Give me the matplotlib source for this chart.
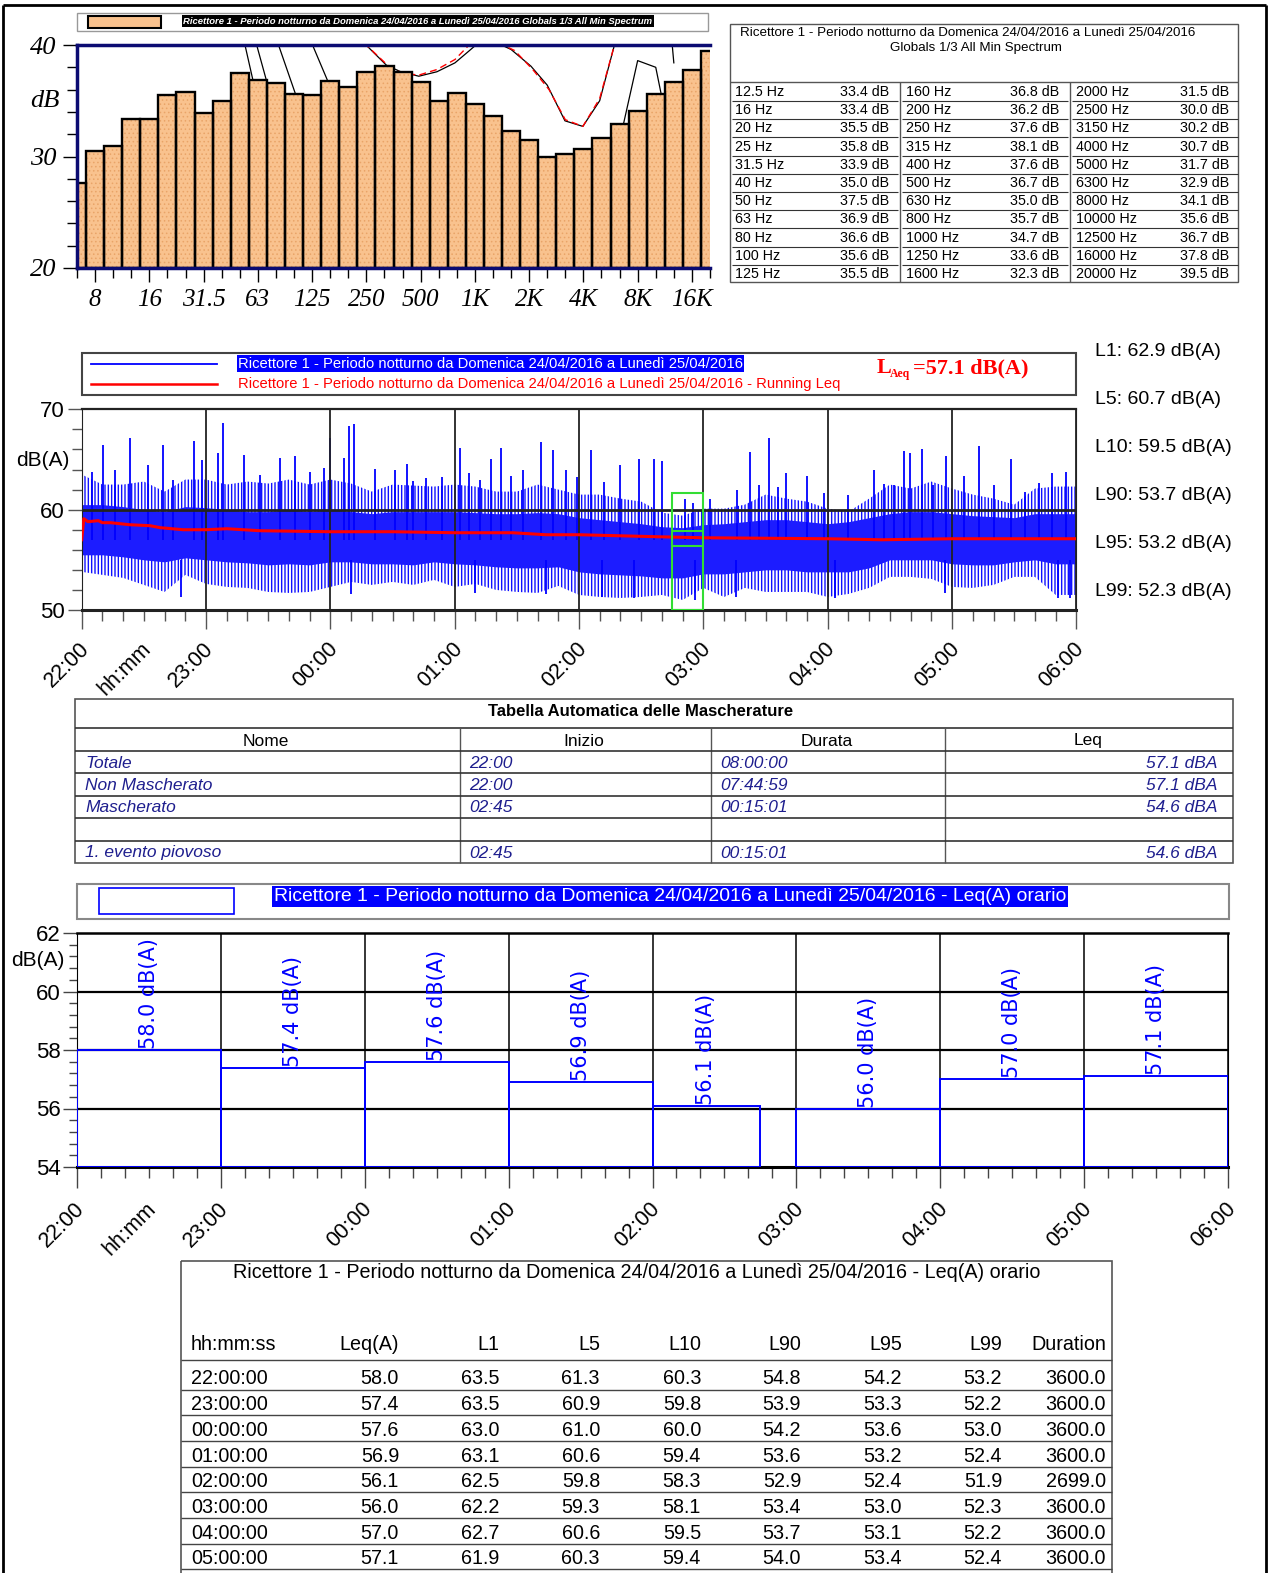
import matplotlib
matplotlib.use('Agg')
import matplotlib.pyplot as plt
import matplotlib.transforms as mtransforms
from matplotlib.patches import Rectangle
from matplotlib import font_manager
import numpy as np

W, H = 1269, 1573

font_names = {f.name for f in font_manager.fontManager.ttflist}
SANS = 'Liberation Sans'
SERIF = 'Liberation Serif'
# a narrow face is used when one is installed, otherwise the plain face a bit smaller
NARROW, NSCALE = SANS, 0.86
for cand, sc in [('Liberation Sans Narrow', 1.0), ('Arial Narrow', 1.0)]:
    if cand in font_names:
        NARROW, NSCALE = cand, sc
        break

TITLE = 'Ricettore 1 - Periodo notturno da Domenica 24/04/2016 a Lunedì 25/04/2016'

# ---- 1/3 octave spectrum (Globals 1/3 All Min Spectrum) ----
band_labels = ['6.3', '8', '10', '12.5', '16', '20', '25', '31.5', '40', '50', '63', '80',
               '100', '125', '160', '200', '250', '315', '400', '500', '630', '800', '1000',
               '1250', '1600', '2000', '2500', '3150', '4000', '5000', '6300', '8000',
               '10000', '12500', '16000', '20000']
band_db = [27.6, 30.5, 30.9, 33.4, 33.4, 35.5, 35.8, 33.9, 35.0, 37.5, 36.9, 36.6,
           35.6, 35.5, 36.8, 36.2, 37.6, 38.1, 37.6, 36.7, 35.0, 35.7, 34.7,
           33.6, 32.3, 31.5, 30.0, 30.2, 30.7, 31.7, 32.9, 34.1,
           35.6, 36.7, 37.8, 39.5]
octave_bands = ['8', '16', '31.5', '63', '125', '250', '500', '1000', '2000', '4000', '8000', '16000']
octave_names = ['8', '16', '31.5', '63', '125', '250', '500', '1K', '2K', '4K', '8K', '16K']

# off-scale reference curves seen behind the bars (band position, dB)
nan = float('nan')
curve_pos = [9.26, 9.72, nan, 9.9, 10.46, nan, 11.1, 12.06, nan, 12.97, 13.83, nan,
             15.86, 17.1, 17.9, 18.9, 19.9, 20.9, 21.7, 22.2, nan,
             23.2, 24.0, 25.1, 26.0, 26.98, 27.97, 28.9, 29.75, nan,
             30.2, 31.0, 32.0, 32.3, nan, 32.9, 33.0]
curve_db = [40.2, 36.9, nan, 40.2, 36.9, nan, 40.2, 35.7, nan, 40.2, 36.9, nan,
            40.2, 38.2, 37.6, 37.2, 37.6, 38.4, 39.5, 40.2, nan,
            40.2, 39.6, 38.1, 36.4, 33.2, 32.7, 35.0, 40.2, nan,
            32.8, 38.6, 38.0, 35.6, nan, 40.2, 38.4]
red_pos = [15.86, 17.1, 17.9, 18.9, 19.9, 20.9, 21.8, nan,
           23.3, 24.2, 25.2, 26.1, 27.0, 27.97, 28.9, 29.75]
red_db = [40.2, 38.3, 37.5, 37.3, 37.8, 38.7, 40.2, nan,
          40.2, 39.5, 37.8, 36.0, 33.3, 32.7, 35.2, 40.2]

# ---- time history 22:00 -> 06:00 (minutes from 22:00), envelope read every 10 min ----
th_min = list(range(0, 481, 10))
th_upper = [63.5, 62.5, 62.5, 62.8, 61.8, 63.0, 63.0, 62.5, 62.8, 62.6,
            63.0, 62.5, 63.0, 62.6, 61.8, 62.5, 62.4, 62.3, 62.5, 62.3,
            61.8, 61.8, 62.5, 62.0, 61.5, 61.5, 61.1, 60.8, 59.7, 59.4,
            60.1, 60.1, 60.5, 61.5, 61.1, 60.8, 60.1, 59.8, 61.1, 62.5,
            62.1, 62.8, 62.1, 61.5, 61.1, 60.5, 62.1, 62.3, 62.3]
th_core_hi = [60.5, 60.5, 60.3, 60.0, 59.8, 60.3, 60.2, 60.0, 59.8, 59.8,
              60.0, 59.8, 60.0, 59.8, 59.6, 59.8, 59.8, 59.8, 59.8, 59.7,
              59.6, 59.6, 59.7, 59.6, 59.2, 59.0, 58.8, 58.6, 58.3, 58.2,
              58.5, 58.6, 58.8, 59.0, 59.0, 58.8, 58.6, 58.8, 59.2, 59.6,
              59.8, 59.8, 59.6, 59.4, 59.3, 59.2, 59.6, 59.6, 59.6]
th_core_lo = [55.5, 55.5, 55.3, 55.0, 54.8, 55.2, 55.0, 54.8, 54.7, 54.5,
              54.6, 54.5, 54.8, 54.8, 54.6, 54.6, 54.5, 54.8, 54.6, 54.5,
              54.3, 54.2, 54.2, 54.3, 53.8, 53.6, 53.5, 53.4, 53.2, 53.2,
              53.6, 53.6, 53.8, 54.0, 54.0, 53.8, 53.8, 53.8, 54.2, 55.0,
              55.0, 55.0, 54.6, 54.5, 54.5, 54.8, 55.0, 54.6, 54.6]
th_lower = [53.8, 53.5, 53.2, 52.5, 51.8, 53.5, 52.6, 52.3, 52.2, 51.8,
            51.7, 51.8, 52.3, 52.8, 52.5, 52.8, 52.5, 53.0, 52.3, 52.6,
            52.0, 51.8, 51.7, 52.4, 51.5, 51.3, 51.2, 51.3, 51.5, 51.0,
            52.2, 51.3, 52.2, 51.8, 51.8, 51.8, 51.3, 51.6, 52.2, 53.3,
            53.3, 53.1, 52.3, 52.2, 52.5, 53.3, 53.3, 51.5, 51.5]
peak_min = [5, 10.1, 16, 23.5, 32.2, 39.0, 44, 54.4, 58.0, 66.0, 68.3, 78.1, 86, 95.8,
            103.1, 110, 116.8, 119.7, 126.4, 128.9, 131.3, 141.7, 151.4, 157.0, 159.7,
            166, 173.9, 182.7, 186.8, 192, 197.7, 202.3, 207, 212.8, 221.8, 227.3,
            233.9, 239, 245.9, 252, 259.6, 268.7, 276.4, 280.0, 290.9, 294.8, 303.4,
            316.3, 322.4, 327, 331.5, 336, 340.1, 350.0, 358.1, 370, 382.5, 387, 392,
            397.0, 399.9, 405.5, 411, 417.2, 425.9, 433.0, 440, 448.6, 455, 462,
            468.2, 475.2]
peak_db = [63.8, 66.4, 64.0, 67.1, 64.4, 66.4, 63.0, 66.8, 64.9, 65.6, 68.6, 65.4, 63.5, 65.1,
           65.3, 63.8, 64.2, 67.1, 65.1, 68.3, 68.5, 64.1, 64.0, 64.5, 62.9,
           63.2, 63.3, 66.1, 63.7, 63.0, 65.0, 66.1, 63.4, 64.0, 66.7, 65.9,
           64.0, 63.3, 65.9, 62.8, 64.4, 65.0, 65.0, 64.8, 61.1, 60.7, 61.1,
           62.0, 65.7, 62.5, 67.1, 62.3, 63.7, 63.4, 61.7, 61.5, 64.0, 62.6, 62.5,
           65.8, 65.6, 66.0, 62.5, 65.3, 63.4, 66.3, 62.5, 65.0, 61.8, 62.7,
           63.7, 63.8]
dip_min = [47.8, 130, 190, 224, 251, 266.3, 296.1, 315.5, 363.7, 416.8, 470.9, 477.0]
dip_db = [51.3, 51.6, 51.7, 51.6, 51.3, 51.2, 51.0, 51.3, 51.2, 51.7, 51.2, 51.2]
leq_min = [0, 1, 3, 8, 10, 14, 23, 33, 38, 49, 60, 70, 86, 120, 150, 180, 208, 224,
           240, 278, 300, 360, 386, 420, 480]
leq_db = [57.0, 59.1, 58.8, 58.9, 58.7, 58.7, 58.5, 58.4, 58.2, 58.0, 58.0, 58.1, 57.9,
          57.8, 57.8, 57.7, 57.7, 57.5, 57.5, 57.3, 57.2, 57.1, 57.0, 57.1, 57.1]
mask_from, mask_to, mask_top = 285, 300, 61.7      # 02:45 -> 03:00
mask_leq_lines = [57.9, 56.4]
laeq_total = 57.1
stat_names = ['L1', 'L5', 'L10', 'L90', 'L95', 'L99']
stat_values = [62.9, 60.7, 59.5, 53.7, 53.2, 52.3]
hour_labels = ['22:00', '23:00', '00:00', '01:00', '02:00', '03:00', '04:00', '05:00', '06:00']

# ---- masking table ----
mask_names = ['Totale', 'Non Mascherato', 'Mascherato', '', '1. evento piovoso']
mask_start = ['22:00', '22:00', '02:45', '', '02:45']
mask_dur = ['08:00:00', '07:44:59', '00:15:01', '', '00:15:01']
mask_leq = [57.1, 57.1, 54.6, None, 54.6]

# ---- hourly Leq table ----
ht_hours = ['22:00:00', '23:00:00', '00:00:00', '01:00:00', '02:00:00', '03:00:00', '04:00:00', '05:00:00']
ht_leq = [58.0, 57.4, 57.6, 56.9, 56.1, 56.0, 57.0, 57.1]
ht_l1 = [63.5, 63.5, 63.0, 63.1, 62.5, 62.2, 62.7, 61.9]
ht_l5 = [61.3, 60.9, 61.0, 60.6, 59.8, 59.3, 60.6, 60.3]
ht_l10 = [60.3, 59.8, 60.0, 59.4, 58.3, 58.1, 59.5, 59.4]
ht_l90 = [54.8, 53.9, 54.2, 53.6, 52.9, 53.4, 53.7, 54.0]
ht_l95 = [54.2, 53.3, 53.6, 53.2, 52.4, 53.0, 53.1, 53.4]
ht_l99 = [53.2, 52.2, 53.0, 52.4, 51.9, 52.3, 52.2, 52.4]
ht_dur = [3600.0, 3600.0, 3600.0, 3600.0, 2699.0, 3600.0, 3600.0, 3600.0]

fig = plt.figure(figsize=(W / 100, H / 100), dpi=100)


def px_axes(x0, y0, x1, y1):
    return fig.add_axes([x0 / W, 1 - y1 / H, (x1 - x0) / W, (y1 - y0) / H])


def nsize(s):
    return s * NSCALE


def hour_text(ax, xs, labels, dx=-3, dy=-28, size=15.5):
    trans = mtransforms.offset_copy(ax.get_xaxis_transform(), fig=fig, x=dx, y=dy, units='dots')
    for xv, lab in zip(xs, labels):
        ax.text(xv, 0, lab, transform=trans, rotation=45, ha='right', va='top',
                rotation_mode='anchor', fontsize=size, family=SANS, clip_on=False)


def set_hatch_lw(artist, lw):
    if hasattr(artist, 'set_hatch_linewidth'):
        artist.set_hatch_linewidth(lw)


# ================= spectrum =================
navy = '#0b0b72'
ax1 = px_axes(77, 45, 710, 268)
xb = np.arange(len(band_db))
heights = np.array(band_db) - 20
ax1.plot(curve_pos, curve_db, color='black', lw=0.9, zorder=1)
ax1.plot(red_pos, red_db, color='red', lw=1.0, ls=(0, (5, 3)), zorder=1)
plt.rcParams['hatch.linewidth'] = 0.6
bars = ax1.bar(xb, heights, bottom=20, width=1, color='#f9c28e', edgecolor='#e9a468',
               hatch='....', lw=0, zorder=2)
for b in bars:
    set_hatch_lw(b, 0.6)
ax1.bar(xb, heights, bottom=20, width=1, fill=False, edgecolor='black', lw=1.7, zorder=3)
ax1.set_xlim(0, len(band_db) - 1)
ax1.set_ylim(20, 40)
for s in ['left', 'top', 'bottom']:
    ax1.spines[s].set_color(navy)
    ax1.spines[s].set_linewidth(2.5)
    ax1.spines[s].set_zorder(4)
ax1.spines['right'].set_visible(False)
ax1.set_yticks([20, 30, 40])
ax1.set_yticks(np.arange(22, 40, 2), minor=True)
ax1.set_yticklabels(['20', '30', '40'], family=SERIF, style='italic', fontsize=19)
ax1.set_xticks([band_labels.index(b) for b in octave_bands])
ax1.set_xticks(xb, minor=True)
ax1.set_xticklabels(octave_names, family=SERIF, style='italic', fontsize=18)
ax1.tick_params(axis='both', which='major', length=10, width=1, color='black', pad=5)
ax1.tick_params(axis='both', which='minor', length=7, width=1, color='black')

# ================= time history =================
ax2 = px_axes(81.7, 409.3, 1076.4, 610)
plt.rcParams['hatch.linewidth'] = 1.0
outer = ax2.fill_between(th_min, th_lower, th_upper, facecolor='none', edgecolor='#1010ff',
                         hatch='|||||', lw=0, zorder=1)
set_hatch_lw(outer, 1.0)
ax2.fill_between(th_min, th_core_lo, th_core_hi, color='#1c1cff', lw=0, zorder=2)
ax2.vlines(peak_min, 57, peak_db, color='blue', lw=1.3, zorder=2)
ax2.vlines(dip_min, dip_db, 55, color='blue', lw=1.3, zorder=2)
ax2.vlines(range(0, 481, 60), 50, 70, color='#222222', lw=1.3, zorder=3)
ax2.axhline(60, color='#222222', lw=2, zorder=3)
ax2.plot(leq_min, leq_db, color='red', lw=2.2, zorder=5)
ax2.add_patch(Rectangle((mask_from, 50), mask_to - mask_from, mask_top - 50, fill=False,
                        ec='#33dd33', lw=1.5, zorder=6))
ax2.hlines(mask_leq_lines, mask_from, mask_to, color='#33dd33', lw=1.5, zorder=6)
ax2.set_xlim(0, 480)
ax2.set_ylim(50, 70)
for s in ax2.spines.values():
    s.set_color('#222222')
ax2.spines['bottom'].set_linewidth(2.2)
ax2.spines['top'].set_linewidth(1.6)
ax2.set_xticks(range(0, 481, 60))
ax2.set_xticks(range(0, 481, 10), minor=True)
ax2.set_xticklabels([])
ax2.set_yticks([50, 60, 70])
ax2.set_yticks(np.arange(52, 70, 2), minor=True)
ax2.set_yticklabels(['50', '60', '70'], family=SANS, fontsize=16)
ax2.tick_params(axis='x', which='major', length=14, width=1, color='#555555')
ax2.tick_params(axis='x', which='minor', length=8, width=1, color='#555555')
ax2.tick_params(axis='y', which='major', length=10, width=1, color='#555555', pad=2)
ax2.tick_params(axis='y', which='minor', length=7, width=1, color='#555555')
hour_text(ax2, list(range(0, 481, 60)) + [30], hour_labels + ['hh:mm'])

# ================= hourly Leq bars =================
ax3 = px_axes(77, 933, 1228, 1167)
starts = [60 * i for i in range(len(ht_leq))]
widths = [d / 60 for d in ht_dur]
ax3.vlines(range(0, 481, 60), 54, 62, color='black', lw=1.1, zorder=1)
ax3.hlines([56, 58, 60], 0, 480, color='black', lw=1.6, zorder=1)
ax3.bar(starts, np.array(ht_leq) - 54, width=widths, bottom=54, align='edge', fill=False,
        edgecolor='blue', lw=1.4, zorder=3)
for st, wd, v in zip(starts, widths, ht_leq):
    ax3.text(st + wd / 2, v + 0.03, f'{v:.1f} dB(A)', rotation=90, ha='center', va='bottom',
             color='blue', fontsize=15, family='DejaVu Sans', zorder=4)
ax3.set_xlim(0, 480)
ax3.set_ylim(54, 62)
for s in ax3.spines.values():
    s.set_color('black')
ax3.spines['bottom'].set_linewidth(2.2)
ax3.spines['top'].set_linewidth(1.8)
ax3.set_xticks(range(0, 481, 60))
ax3.set_xticks(range(0, 481, 10), minor=True)
ax3.set_xticklabels([])
ax3.set_yticks([54, 56, 58, 60, 62])
ax3.set_yticks(np.arange(54, 62.01, 0.4), minor=True)
ax3.set_yticklabels(['54', '56', '58', '60', '62'], family=SANS, fontsize=16)
ax3.tick_params(axis='x', which='major', length=15, width=1, color='#444444')
ax3.tick_params(axis='x', which='minor', length=8, width=1, color='#444444')
ax3.tick_params(axis='y', which='major', length=10, width=1, color='#444444', pad=2)
ax3.tick_params(axis='y', which='minor', length=6, width=1, color='#444444')
hour_text(ax3, list(range(0, 481, 60)) + [30], hour_labels + ['hh:mm'], dy=-31)

# ================= overlay: legends, tables, frame =================
ov = fig.add_axes([0, 0, 1, 1], zorder=10)
ov.set_xlim(0, W)
ov.set_ylim(H, 0)
ov.axis('off')


def box(x0, y0, x1, y1, **kw):
    ov.add_patch(Rectangle((x0, y0), x1 - x0, y1 - y0, fill=kw.pop('fill', False), **kw))


def hline(y, x0, x1, c='#555555', lw=1.0):
    ov.plot([x0, x1], [y, y], color=c, lw=lw, solid_capstyle='butt')


def vline(x, y0, y1, c='#555555', lw=1.0):
    ov.plot([x, x], [y0, y1], color=c, lw=lw, solid_capstyle='butt')


# page frame
vline(3, 5, H, c='black', lw=2)
vline(1266, 5, H, c='black', lw=2)
hline(5, 3, 1266, c='black', lw=2)

# spectrum legend
box(77, 13, 708, 31, ec='#999999', lw=1)
box(88, 16, 161, 28, ec='black', lw=1.5, fill=True, fc='#f9c28e')
ov.text(183, 21, TITLE + ' Globals 1/3 All Min Spectrum', fontsize=6.8, color='white',
        family=SANS, style='italic', weight='bold', va='center', ha='left',
        bbox=dict(boxstyle='square,pad=0.15', fc='black', ec='none'))
ov.text(45, 101, 'dB', family=SERIF, style='italic', fontsize=19, ha='center', va='center')

# spectrum table
box(730, 24, 1238, 282, ec='#555555', lw=1)
ov.text(968, 32.5, TITLE, fontsize=9.6, family=SANS, ha='center', va='center')
ov.text(976, 48, 'Globals 1/3 All Min Spectrum', fontsize=9.6, family=SANS, ha='center', va='center')
hline(82, 730, 1238)
col_left = [735, 906, 1076]
col_right = [889, 1059, 1229]
for sep in [900, 1070]:
    vline(sep, 82, 282)
for k in range(3, len(band_db)):
    j = k - 3
    col, row = j // 11, j % 11
    yc = 92 + row * 18.2
    ov.text(col_left[col], yc, f'{band_labels[k]} Hz', fontsize=10.3, family=SANS, va='center')
    ov.text(col_right[col], yc, f'{band_db[k]:.1f} dB', fontsize=10.3, family=SANS,
            va='center', ha='right')
    if row < 10:
        hline(yc + 9, 732 + col * 170, 898 + col * 170, c='#333333', lw=0.8)

# time history legend
box(81.7, 353, 1076.4, 395, ec='#444444', lw=1.5)
ov.plot([91, 217], [363.5, 363.5], color='blue', lw=1.3)
ov.plot([91, 217], [384, 384], color='red', lw=1.8)
ov.text(238, 363.5, TITLE, fontsize=10.6, family=SANS, color='white', va='center',
        bbox=dict(boxstyle='square,pad=0.08', fc='blue', ec='none'))
ov.text(238, 384, TITLE + ' - Running Leq', fontsize=10.6, family=SANS, color='red', va='center')
ov.text(877, 368, 'L', fontsize=16, family=SERIF, weight='bold', color='red', va='center')
ov.text(890, 374, 'Aeq', fontsize=8.5, family=SERIF, weight='bold', color='red', va='center')
ov.text(913, 368, f'={laeq_total:.1f} dB(A)', fontsize=16, family=SERIF, weight='bold',
        color='red', va='center')
for i, (nm, v) in enumerate(zip(stat_names, stat_values)):
    ov.text(1095, 352 + 47.8 * i, f'{nm}: {v:.1f} dB(A)', fontsize=nsize(16.3), family=NARROW,
            va='center')
ov.text(43, 460, 'dB(A)', fontsize=15, family=SANS, ha='center', va='center')

# masking table
mx = [75, 459.5, 710.5, 944.5, 1232.5]
box(75, 699, 1232.5, 862.5, ec='#555555', lw=1.2)
ov.text(641, 712, 'Tabella Automatica delle Mascherature', fontsize=12, family=SANS,
        weight='bold', ha='center', va='center')
hline(727.5, 75, 1232.5, c='#333333', lw=1.2)
for xv in mx[1:4]:
    vline(xv, 727.5, 862.5)
for lab, xc in zip(['Nome', 'Inizio', 'Durata', 'Leq'], [265.5, 584, 827, 1088]):
    ov.text(xc, 741, lab, fontsize=12.5, family=SANS, ha='center', va='center')
row_y = [763, 785.5, 808, 830.5, 853]
for ln in [750.5, 773, 795.5, 818, 840.5]:
    hline(ln, 75, 1232.5, c='#333333', lw=1.2)
navy_txt = '#1e1e8e'
for yc, nm, stt, du, lq in zip(row_y, mask_names, mask_start, mask_dur, mask_leq):
    kw = dict(fontsize=12.5, family=SANS, style='italic', color=navy_txt, va='center')
    ov.text(85, yc, nm, **kw)
    ov.text(469, yc, stt, **kw)
    ov.text(720, yc, du, **kw)
    if lq is not None:
        ov.text(1218, yc, f'{lq:.1f} dBA', ha='right', **kw)

# hourly legend
box(77, 884, 1228.5, 918.5, ec='#888888', lw=1.5)
box(99, 888, 234, 913.5, ec='blue', lw=1.2)
ov.text(274, 896.5, TITLE + ' - Leq(A) orario', fontsize=nsize(16.2), family=NARROW,
        color='white', va='center', bbox=dict(boxstyle='square,pad=0.1', fc='blue', ec='none'))
ov.text(38, 961, 'dB(A)', fontsize=15, family=SANS, ha='center', va='center')

# hourly table
tx0, tx1 = 181, 1112
tsize = nsize(16.5)
box(tx0, 1261, tx1, H + 5, ec='#555555', lw=1.2)
ov.text(637, 1272, TITLE + ' - Leq(A) orario', fontsize=tsize, family=NARROW, ha='center',
        va='center')
hdr = ['hh:mm:ss', 'Leq(A)', 'L1', 'L5', 'L10', 'L90', 'L95', 'L99', 'Duration']
right_x = [399, 499, 600, 701, 801, 902, 1002, 1106]
ov.text(191, 1345, hdr[0], fontsize=tsize, family=NARROW, va='center')
for hx, lab in zip(right_x, hdr[1:]):
    ov.text(hx, 1345, lab, fontsize=tsize, family=NARROW, va='center', ha='right')
hline(1360, tx0, tx1, c='#444444', lw=1)
cols = [ht_leq, ht_l1, ht_l5, ht_l10, ht_l90, ht_l95, ht_l99, ht_dur]
for i, hh in enumerate(ht_hours):
    yc = 1379 + 25.7 * i
    ov.text(191, yc, hh, fontsize=tsize, family=NARROW, va='center')
    for hx, col in zip(right_x, cols):
        ov.text(hx, yc, f'{col[i]:.1f}', fontsize=tsize, family=NARROW, va='center', ha='right')
    hline(yc + 10.5, tx0, tx1, c='#444444', lw=1)

fig.savefig('out.png', dpi=100, facecolor='white')
